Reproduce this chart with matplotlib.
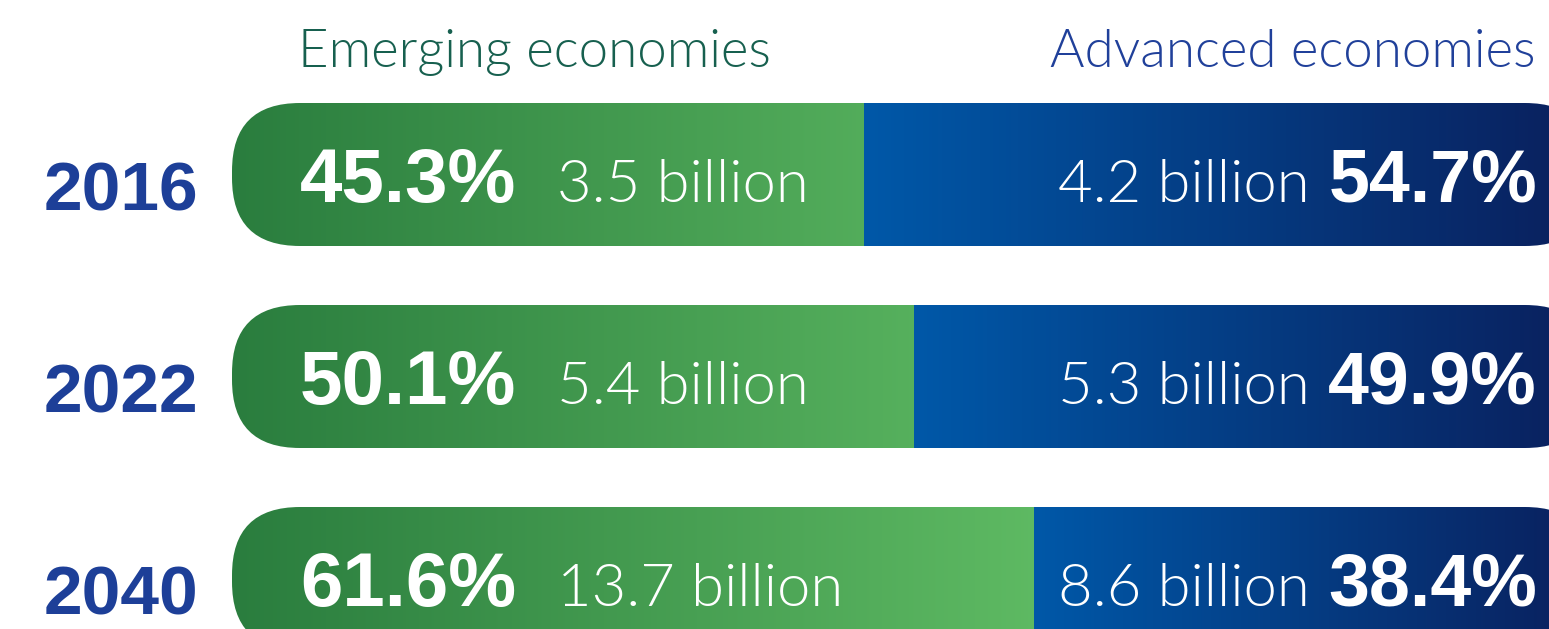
import numpy as np
import matplotlib
matplotlib.use("Agg")
import matplotlib.pyplot as plt
from matplotlib.patches import FancyBboxPatch
from matplotlib.colors import to_rgb

# ---------------- data ----------------
years = ["2016", "2022", "2040"]
emerging_share = [45.3, 50.1, 61.6]
advanced_share = [54.7, 49.9, 38.4]
emerging_pop = [3.5, 5.4, 13.7]
advanced_pop = [4.2, 5.3, 8.6]
header_left = "Emerging economies"
header_right = "Advanced economies"

# ---------------- styles ----------------
W, H, DPI = 1549, 629, 100
green_dark, green_light = "#2a7d3e", "#60bc64"
blue_light, blue_dark = "#0058a8", "#0a1f5c"
year_color = "#1d3f98"
hdr_green = "#17604f"
hdr_blue = "#20409a"
BOLD = "Liberation Sans"
LIGHT = "Lato"
LW = 300

fig = plt.figure(figsize=(W / DPI, H / DPI), dpi=DPI)
ax = fig.add_axes([0, 0, 1, 1])
ax.axis("off")

# coordinate frame: share fraction 0..1 horizontally, bar index vertically
px_per_x = 1040.0
x0_px = 393.0
px_per_y = 202.0
y0_px = 174.5
def xd(px):
    return (px - x0_px) / px_per_x
def yd(py):
    return (py - y0_px) / px_per_y

bar_left = xd(232)
bar_right = xd(1593)
bar_h = 143 / px_per_y
radius_px = 68
asp = px_per_x / px_per_y
green_end = 0.65

def grad_img(c1, c2, n=256):
    a = np.array(to_rgb(c1)); b = np.array(to_rgb(c2))
    t = np.linspace(0, 1, n)[None, :, None]
    return a + (b - a) * t

for i, (yr, es, as_, ep, ap) in enumerate(zip(years, emerging_share, advanced_share,
                                              emerging_pop, advanced_pop)):
    split = es / 100.0
    patch = FancyBboxPatch((bar_left, i - bar_h / 2), bar_right - bar_left, bar_h,
                           boxstyle=f"round,pad=0,rounding_size={radius_px / px_per_x}",
                           mutation_aspect=asp, facecolor="none", edgecolor="none")
    ax.add_patch(patch)
    tg = np.clip((split - bar_left) / (green_end - bar_left), 0, 1)
    gc2 = np.array(to_rgb(green_dark)) + (np.array(to_rgb(green_light)) - np.array(to_rgb(green_dark))) * tg
    im1 = ax.imshow(grad_img(green_dark, gc2), extent=[bar_left, split, i + bar_h / 2, i - bar_h / 2],
                    aspect="auto", interpolation="bilinear", zorder=2)
    im1.set_clip_path(patch)
    im2 = ax.imshow(grad_img(blue_light, blue_dark), extent=[split, bar_right, i + bar_h / 2, i - bar_h / 2],
                    aspect="auto", interpolation="bilinear", zorder=2)
    im2.set_clip_path(patch)

    base = i + 0.135
    ax.text(xd(300), base, f"{es:.1f}%", family=BOLD, fontweight="bold", fontsize=55,
            color="white", ha="left", va="baseline", zorder=3)
    ax.text(xd(557), base, f"{ep} billion", family=LIGHT, fontweight=LW, fontsize=43,
            color="white", ha="left", va="baseline", zorder=3)
    ax.text(xd(1310), base, f"{ap} billion", family=LIGHT, fontweight=LW, fontsize=43,
            color="white", ha="right", va="baseline", zorder=3)
    ax.text(xd(1537), base, f"{as_:.1f}%", family=BOLD, fontweight="bold", fontsize=53,
            color="white", ha="right", va="baseline", zorder=3)
    ax.text(xd(198), i + 0.18, yr, family=BOLD, fontweight="bold", fontsize=50,
            color=year_color, ha="right", va="baseline", zorder=3)

ax.text(xd(298), yd(67), header_left, family=LIGHT, fontweight=LW, fontsize=38,
        color=hdr_green, ha="left", va="baseline")
ax.text(xd(1535), yd(67), header_right, family=LIGHT, fontweight=LW, fontsize=38,
        color=hdr_blue, ha="right", va="baseline")

ax.set_xlim(xd(0), xd(W))
ax.set_ylim(yd(H), yd(0))

fig.savefig("out.png", dpi=DPI)
